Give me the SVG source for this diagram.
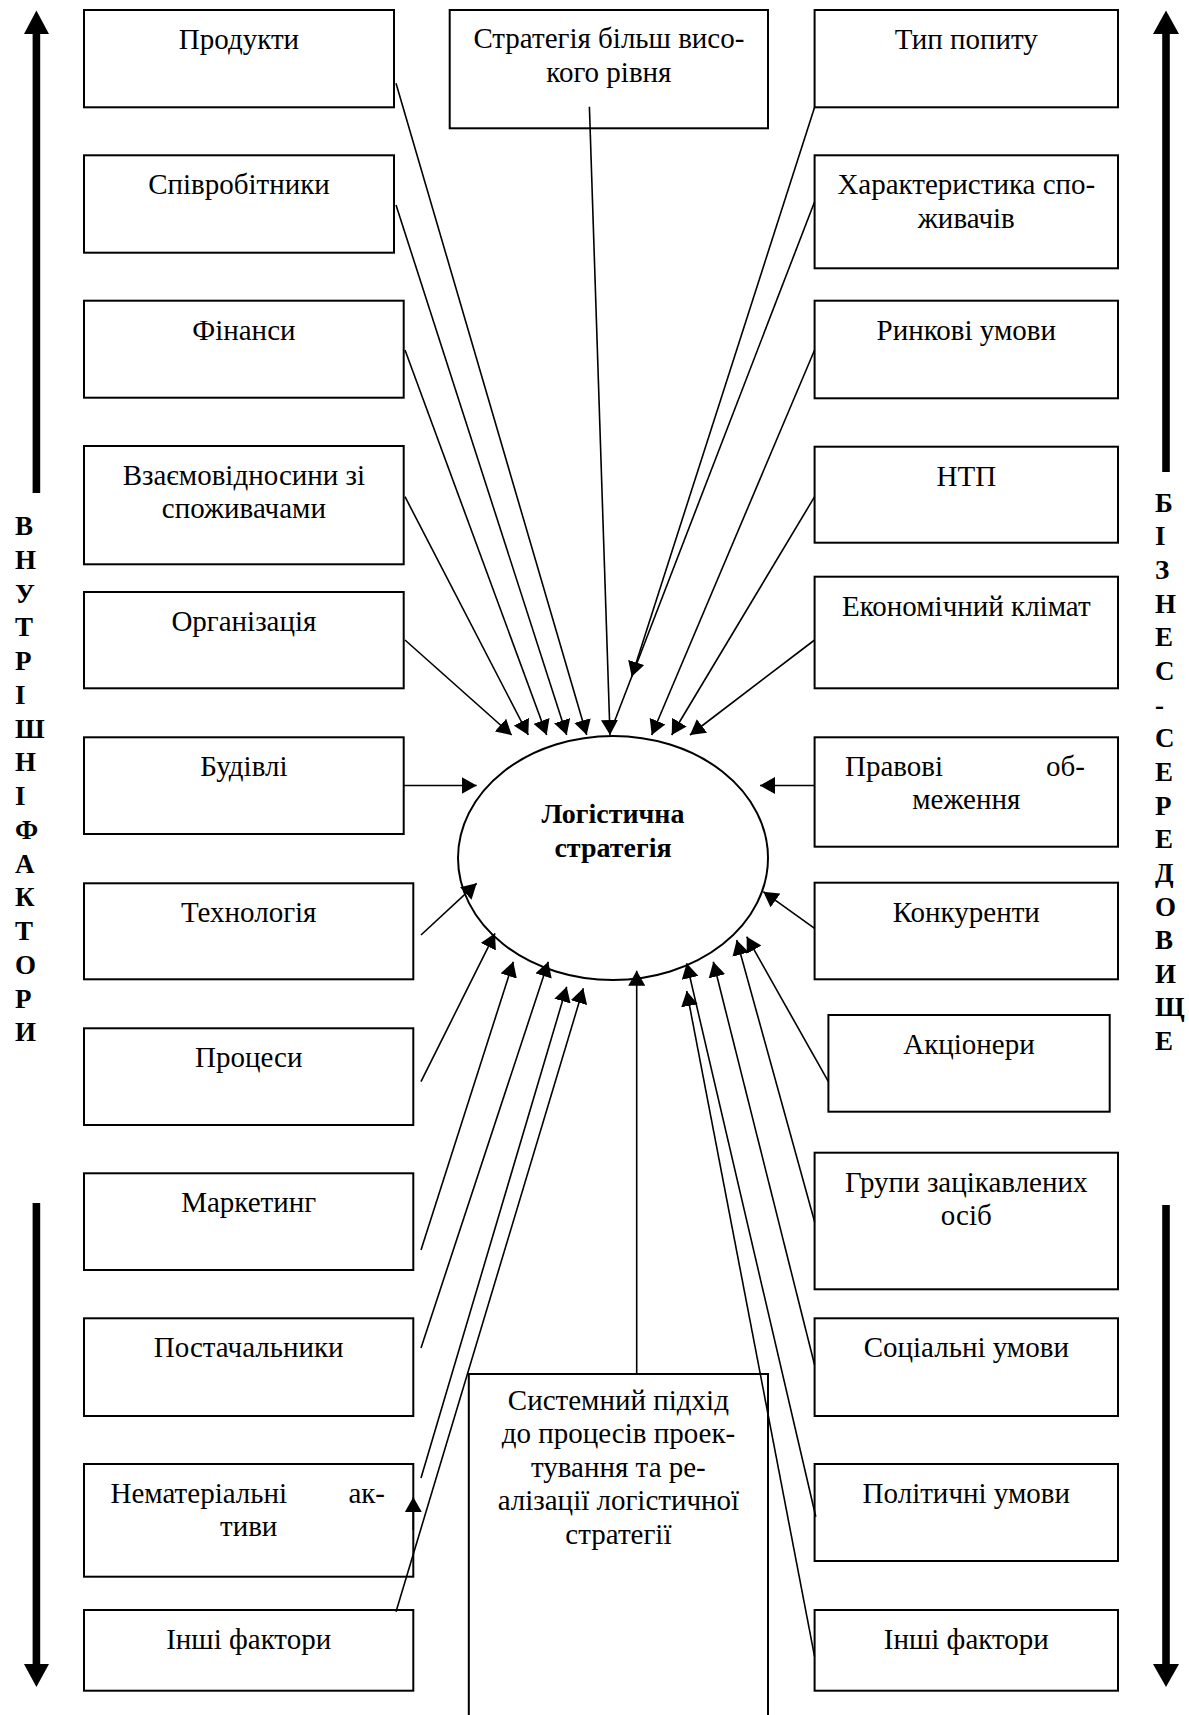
<svg xmlns="http://www.w3.org/2000/svg" width="1189" height="1715" viewBox="0 0 1189 1715">
<style>
.box{fill:#fff;stroke:#000;stroke-width:2}
.t{font-family:"Liberation Serif","Times New Roman",serif;font-size:29px;text-anchor:middle;fill:#000}
.s{text-anchor:start}
.e{text-anchor:end}
.v{font-family:"Liberation Serif","Times New Roman",serif;font-size:27px;font-weight:bold;fill:#000}
.ell{font-family:"Liberation Serif","Times New Roman",serif;font-size:28px;font-weight:bold;text-anchor:middle;fill:#000}
.c{stroke:#000;stroke-width:1.6;fill:none}
.ca{stroke:#000;stroke-width:1.6;fill:none;marker-end:url(#ah)}
.bar{fill:#000}
</style>
<defs>
<marker id="ah" markerUnits="userSpaceOnUse" viewBox="0 0 15 17" refX="15" refY="8.5" markerWidth="15" markerHeight="17" orient="auto"><path d="M0,0 L15,8.5 L0,17 z" fill="#000"/></marker>
</defs>
<rect width="1189" height="1715" fill="#fff"/>

<g id="side-left">
<rect class="bar" x="32.6" y="32" width="7.6" height="461"/>
<path class="bar" d="M36.4,10.5 L49,34 L24,34 z"/>
<rect class="bar" x="32.6" y="1203" width="7.6" height="464"/>
<path class="bar" d="M36.4,1687 L49,1664 L24,1664 z"/>
<text class="v" x="15" y="535">В</text>
<text class="v" x="15" y="568.8">Н</text>
<text class="v" x="15" y="602.5">У</text>
<text class="v" x="15" y="636.3">Т</text>
<text class="v" x="15" y="670">Р</text>
<text class="v" x="15" y="703.8">І</text>
<text class="v" x="15" y="737.5">Ш</text>
<text class="v" x="15" y="771.3">Н</text>
<text class="v" x="15" y="805">І</text>
<text class="v" x="15" y="838.8">Ф</text>
<text class="v" x="15" y="872.5">А</text>
<text class="v" x="15" y="906.3">К</text>
<text class="v" x="15" y="940">Т</text>
<text class="v" x="15" y="973.8">О</text>
<text class="v" x="15" y="1007.5">Р</text>
<text class="v" x="15" y="1041.3">И</text>
</g>

<g id="side-right">
<rect class="bar" x="1162.2" y="32" width="7.6" height="440"/>
<path class="bar" d="M1166,10.5 L1179,34 L1153,34 z"/>
<rect class="bar" x="1162.2" y="1205" width="7.6" height="462"/>
<path class="bar" d="M1166,1687 L1179,1664 L1153,1664 z"/>
<text class="v" x="1155" y="511.7">Б</text>
<text class="v" x="1155" y="545.3">І</text>
<text class="v" x="1155" y="579">З</text>
<text class="v" x="1155" y="612.6">Н</text>
<text class="v" x="1155" y="646.3">Е</text>
<text class="v" x="1155" y="679.9">С</text>
<text class="v" x="1155" y="713.6">-</text>
<text class="v" x="1155" y="747.2">С</text>
<text class="v" x="1155" y="780.9">Е</text>
<text class="v" x="1155" y="814.5">Р</text>
<text class="v" x="1155" y="848.2">Е</text>
<text class="v" x="1155" y="881.8">Д</text>
<text class="v" x="1155" y="915.5">О</text>
<text class="v" x="1155" y="949.1">В</text>
<text class="v" x="1155" y="982.8">И</text>
<text class="v" x="1155" y="1016.4">Щ</text>
<text class="v" x="1155" y="1050">Е</text>
</g>

<g id="n-produkty"><rect class="box" x="84" y="10" width="310" height="97.3"/><text class="t" x="239" y="49">Продукти</text></g>
<g id="n-spivrobitnyky"><rect class="box" x="84" y="155.3" width="310" height="97.4"/><text class="t" x="239" y="194.3">Співробітники</text></g>
<g id="n-finansy"><rect class="box" x="84" y="300.7" width="319.7" height="97"/><text class="t" x="243.9" y="339.7">Фінанси</text></g>
<g id="n-vzaiemo"><rect class="box" x="84" y="446" width="319.7" height="118.3"/><text class="t" x="243.9" y="485">Взаємовідносини зі</text><text class="t" x="243.9" y="518.4">споживачами</text></g>
<g id="n-orhanizatsiia"><rect class="box" x="84" y="592" width="319.7" height="96.3"/><text class="t" x="243.9" y="631">Організація</text></g>
<g id="n-budivli"><rect class="box" x="84" y="737.3" width="319.7" height="96.7"/><text class="t" x="243.9" y="776.3">Будівлі</text></g>
<g id="n-tekhnolohiia"><rect class="box" x="84" y="883.3" width="329.3" height="96"/><text class="t" x="248.7" y="922.3">Технологія</text></g>
<g id="n-protsesy"><rect class="box" x="84" y="1028.3" width="329.3" height="96.7"/><text class="t" x="248.7" y="1067.3">Процеси</text></g>
<g id="n-marketynh"><rect class="box" x="84" y="1173.3" width="329.3" height="96.7"/><text class="t" x="248.7" y="1212.3">Маркетинг</text></g>
<g id="n-postachalnyky"><rect class="box" x="84" y="1318.3" width="329.3" height="97.7"/><text class="t" x="248.7" y="1357.3">Постачальники</text></g>
<g id="n-nematerialni"><rect class="box" x="84" y="1464" width="329.3" height="112.7"/><text class="t s" x="110.5" y="1503">Нематеріальні</text><text class="t e" x="385" y="1503">ак-</text><text class="t" x="248.7" y="1536.4">тиви</text></g>
<g id="n-inshi-l"><rect class="box" x="84" y="1610" width="329.3" height="80.7"/><text class="t" x="248.7" y="1649">Інші фактори</text></g>

<g id="n-typ"><rect class="box" x="814.6" y="10" width="303.4" height="97.3"/><text class="t" x="966.3" y="49">Тип попиту</text></g>
<g id="n-kharakt"><rect class="box" x="814.6" y="155.3" width="303.4" height="113"/><text class="t" x="966.3" y="194.3">Характеристика спо-</text><text class="t" x="966.3" y="227.7">живачів</text></g>
<g id="n-rynkovi"><rect class="box" x="814.6" y="300.7" width="303.4" height="97.6"/><text class="t" x="966.3" y="339.7">Ринкові умови</text></g>
<g id="n-ntp"><rect class="box" x="814.6" y="446.7" width="303.4" height="96"/><text class="t" x="966.3" y="485.7">НТП</text></g>
<g id="n-ekonom"><rect class="box" x="814.6" y="576.7" width="303.4" height="111.6"/><text class="t" x="966.3" y="615.7">Економічний клімат</text></g>
<g id="n-pravovi"><rect class="box" x="814.6" y="737.3" width="303.4" height="109.4"/><text class="t s" x="845" y="775.5">Правові</text><text class="t e" x="1085" y="775.5">об-</text><text class="t" x="966.3" y="809">меження</text></g>
<g id="n-konkurenty"><rect class="box" x="814.6" y="882.7" width="303.4" height="96.6"/><text class="t" x="966.3" y="921.7">Конкуренти</text></g>
<g id="n-aktsionery"><rect class="box" x="828.4" y="1015" width="281.3" height="96.7"/><text class="t" x="969" y="1054">Акціонери</text></g>
<g id="n-hrupy"><rect class="box" x="814.6" y="1152.7" width="303.4" height="136.6"/><text class="t" x="966.3" y="1191.7">Групи зацікавлених</text><text class="t" x="966.3" y="1225">осіб</text></g>
<g id="n-sotsialni"><rect class="box" x="814.6" y="1318.3" width="303.4" height="97.7"/><text class="t" x="966.3" y="1357.3">Соціальні умови</text></g>
<g id="n-politychni"><rect class="box" x="814.6" y="1464" width="303.4" height="97"/><text class="t" x="966.3" y="1503">Політичні умови</text></g>
<g id="n-inshi-r"><rect class="box" x="814.6" y="1610" width="303.4" height="80.7"/><text class="t" x="966.3" y="1649">Інші фактори</text></g>

<g id="n-stratehiia"><rect class="box" x="449.7" y="10" width="318.3" height="118.3"/><text class="t" x="608.9" y="48">Стратегія більш висо-</text><text class="t" x="608.9" y="81.5">кого рівня</text></g>
<g id="n-systemnyi"><rect class="box" x="468.8" y="1374" width="299.2" height="360"/><text class="t" x="618.4" y="1410">Системний підхід</text><text class="t" x="618.4" y="1443.4">до процесів проек-</text><text class="t" x="618.4" y="1476.8">тування та ре-</text><text class="t" x="618.4" y="1510.2">алізації логістичної</text><text class="t" x="618.4" y="1543.6">стратегії</text></g>
<g id="n-center"><ellipse cx="613" cy="858" rx="155" ry="122" fill="#fff" stroke="#000" stroke-width="2"/><text class="ell" x="613" y="823.3">Логістична</text><text class="ell" x="613" y="856.7">стратегія</text></g>

<g id="connectors">
<line class="ca" x1="396" y1="83.3" x2="586.7" y2="735"/>
<line class="ca" x1="396" y1="205" x2="566.7" y2="735"/>
<line class="ca" x1="405" y1="350" x2="546.7" y2="735"/>
<line class="ca" x1="405" y1="496.7" x2="528.3" y2="735"/>
<line class="ca" x1="405" y1="640" x2="511.7" y2="735"/>
<line class="ca" x1="403.7" y1="785.5" x2="476.7" y2="785.5"/>
<line class="ca" x1="421" y1="935" x2="476.7" y2="883.3"/>
<line class="ca" x1="421" y1="1081.7" x2="495" y2="933.3"/>
<line class="ca" x1="421" y1="1250" x2="513.3" y2="961.7"/>
<line class="ca" x1="421" y1="1348" x2="548.3" y2="961.7"/>
<line class="ca" x1="421" y1="1478" x2="566.7" y2="986.7"/>
<line class="ca" x1="396" y1="1611.7" x2="583.3" y2="988.3"/>
<line class="ca" x1="413.3" y1="1530" x2="413.3" y2="1497"/>
<line class="ca" x1="589.4" y1="106.7" x2="610" y2="735"/>
<line class="ca" x1="814.6" y1="107.3" x2="631.7" y2="676.7"/>
<line class="c" x1="814.6" y1="201.7" x2="613.5" y2="724"/>
<line class="ca" x1="814.6" y1="350" x2="651.7" y2="735"/>
<line class="ca" x1="814.6" y1="496.7" x2="671.7" y2="735"/>
<line class="ca" x1="814.6" y1="640" x2="690" y2="735"/>
<line class="ca" x1="814.6" y1="785.5" x2="760" y2="785.5"/>
<line class="ca" x1="814.6" y1="928.3" x2="763.3" y2="891.7"/>
<line class="ca" x1="828.4" y1="1081.7" x2="746.7" y2="936.7"/>
<line class="ca" x1="814.6" y1="1221.7" x2="736.7" y2="940"/>
<line class="ca" x1="814.6" y1="1365" x2="713.3" y2="961.7"/>
<line class="ca" x1="815.8" y1="1516.7" x2="686.7" y2="963.3"/>
<line class="ca" x1="814.6" y1="1656.7" x2="686.7" y2="991"/>
<line class="ca" x1="636.7" y1="1374" x2="636.7" y2="970.7"/>
</g>
</svg>
